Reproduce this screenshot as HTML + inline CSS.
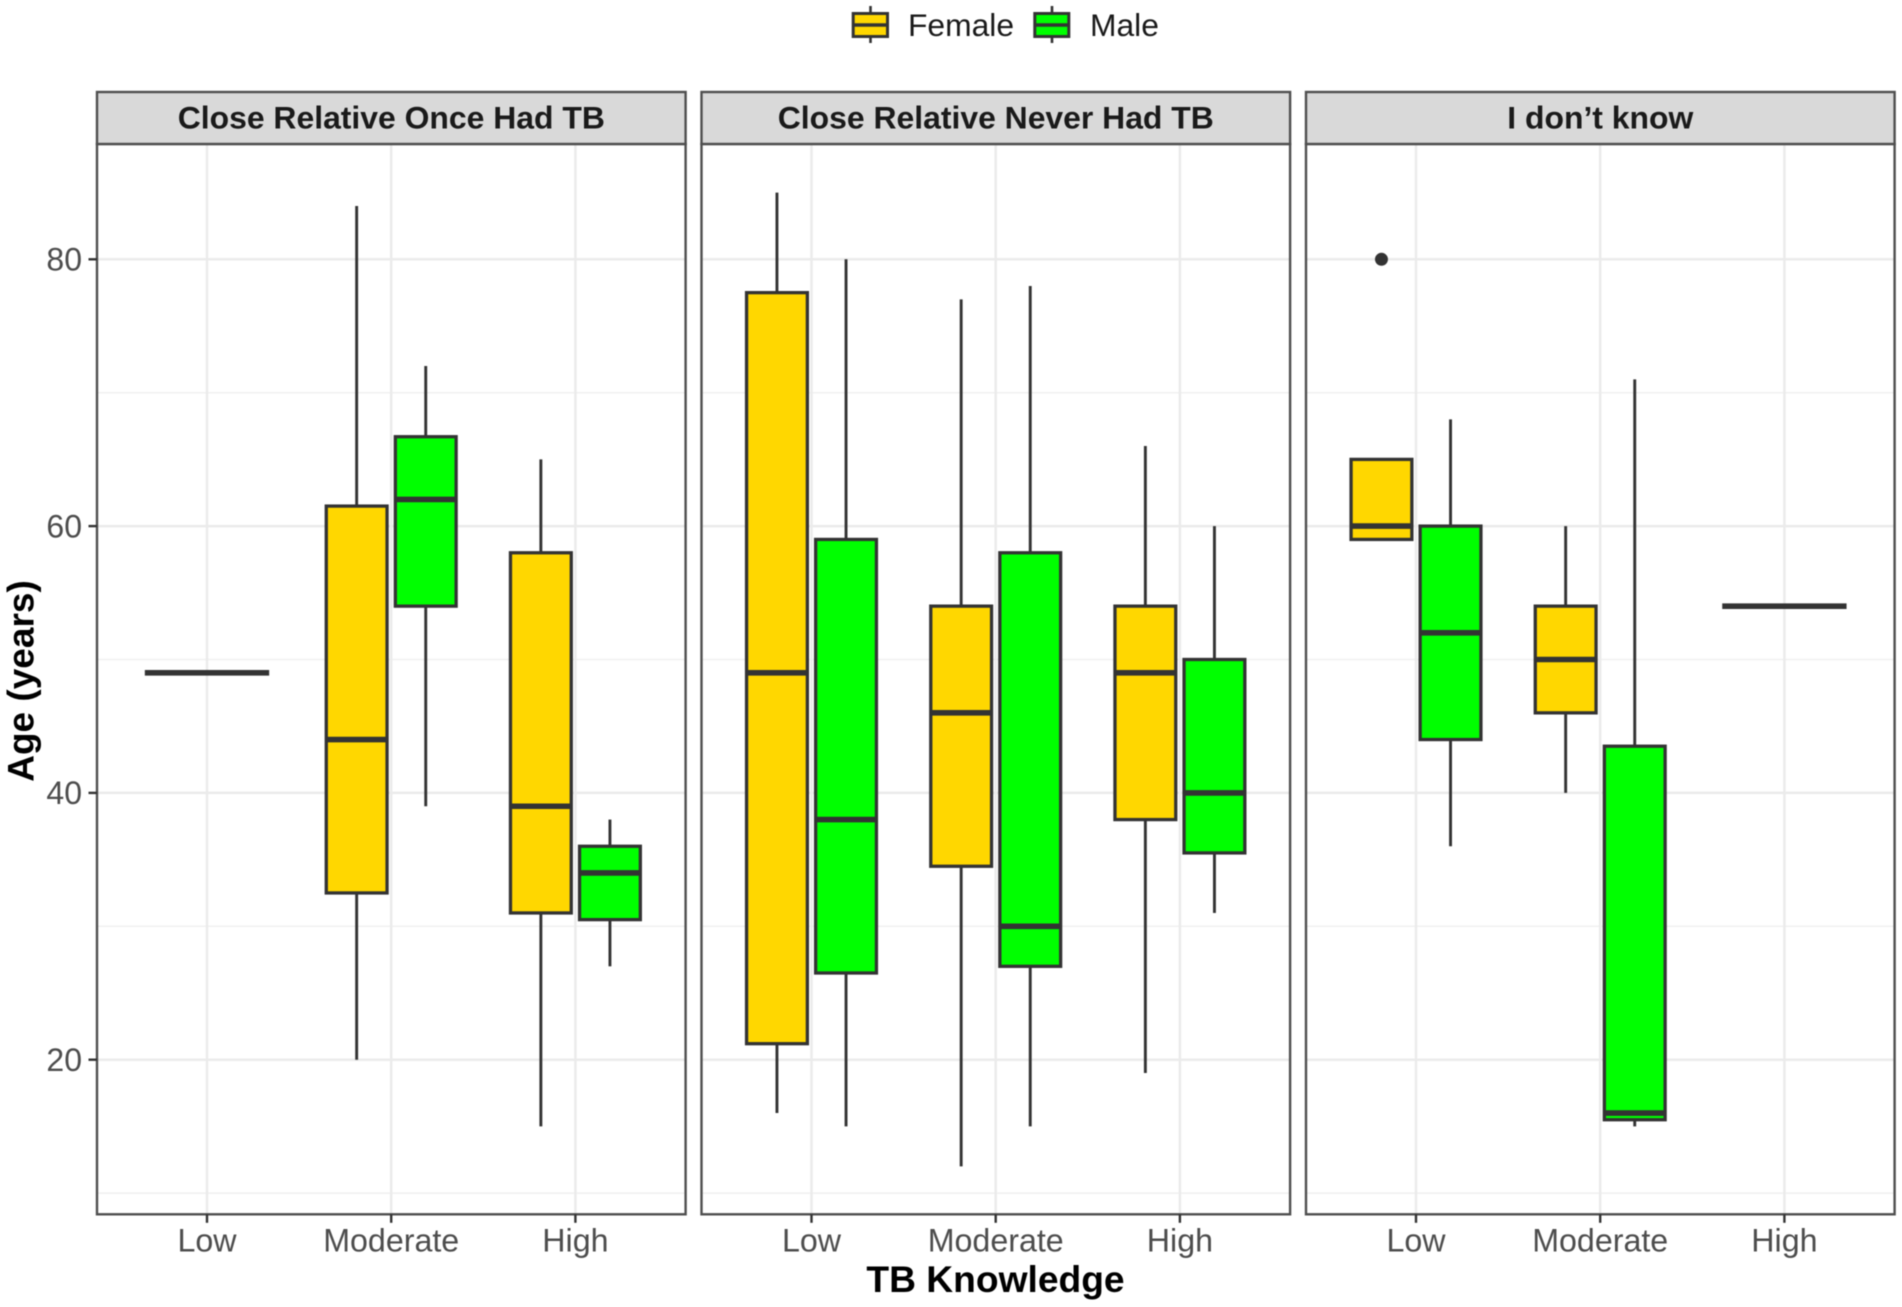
<!DOCTYPE html>
<html lang="en">
<head>
<meta charset="utf-8">
<title>Age by TB Knowledge, Gender and Relative's TB History</title>
<style>
  html, body { margin: 0; padding: 0; background: #fff; }
  svg { display: block; font-family: "Liberation Sans", Arial, sans-serif; filter: blur(0.5px); }
</style>
</head>
<body>
<svg id="chart" xmlns="http://www.w3.org/2000/svg" width="1902" height="1307" viewBox="0 0 1902 1307">
  <rect x="0" y="0" width="1902" height="1307" fill="#ffffff"/>
  <g id="panels"></g>

  <g>
    <g>
      <line x1="870.5" x2="870.5" y1="6" y2="43" stroke="#333333" stroke-width="2.6"/>
      <rect x="853.2" y="13.5" width="34.3" height="23" fill="#ffd700" stroke="#333333" stroke-width="3"/>
      <line x1="853.2" x2="887.5" y1="25" y2="25" stroke="#333333" stroke-width="3.5"/>
      <text x="908" y="36" font-size="31.8" fill="#1a1a1a">Female</text>
    </g>
    <g>
      <line x1="1052" x2="1052" y1="6" y2="43" stroke="#333333" stroke-width="2.6"/>
      <rect x="1034.8" y="13.5" width="34" height="23" fill="#00ff00" stroke="#333333" stroke-width="3"/>
      <line x1="1034.8" x2="1068.8" y1="25" y2="25" stroke="#333333" stroke-width="3.5"/>
      <text x="1090" y="36" font-size="31.8" fill="#1a1a1a">Male</text>
    </g>
  </g>

  <text x="995.5" y="1292" font-size="37.2" font-weight="bold" text-anchor="middle" fill="#000000">TB Knowledge</text>
  <text transform="translate(33.5 681) rotate(-90)" font-size="37" font-weight="bold" text-anchor="middle" fill="#000000">Age (years)</text>
</svg>

<script>
// ---- Data (outer index = facet panel, inner index = knowledge level) ----
const panelTitles = ["Close Relative Once Had TB", "Close Relative Never Had TB", "I don\u2019t know"];
const knowledgeLevels = ["Low", "Moderate", "High"];
const yMajorTicks = [20, 40, 60, 80];
const yMinorTicks = [10, 30, 50, 70];

const femaleWhiskerLow  = [[null, 20, 15], [16, 12, 19], [59, 40, null]];
const femaleQ1          = [[null, 32.5, 31], [21.2, 34.5, 38], [59, 46, null]];
const femaleMedian      = [[null, 44, 39], [49, 46, 49], [60, 50, null]];
const femaleQ3          = [[null, 61.5, 58], [77.5, 54, 54], [65, 54, null]];
const femaleWhiskerHigh = [[null, 84, 65], [85, 77, 66], [65, 60, null]];
const femaleOutliers    = [[null, null, null], [null, null, null], [80, null, null]];

const maleWhiskerLow  = [[null, 39, 27], [15, 15, 31], [36, 15, null]];
const maleQ1          = [[null, 54, 30.5], [26.5, 27, 35.5], [44, 15.5, null]];
const maleMedian      = [[null, 62, 34], [38, 30, 40], [52, 16, null]];
const maleQ3          = [[null, 66.7, 36], [59, 58, 50], [60, 43.5, null]];
const maleWhiskerHigh = [[null, 72, 38], [80, 78, 60], [68, 71, null]];

// Categories with a single observation, drawn as a full-width median bar
const singleObservation = [[49, null, null], [null, null, null], [null, null, 54]];

// ---- Layout and axis functions ----
const SVG_NS = "http://www.w3.org/2000/svg";
const panelLefts = [97, 701.5, 1306];
const panelWidth = 588.6;
const stripTop = 92, panelTop = 144, panelBottom = 1214.3;
const unitX = 184.2, firstCatOffset = 110;
const dodgeUnits = 0.1875, boxUnits = 0.33, singleUnits = 0.675;
const INK = "#333333", GRID = "#ebebeb", FRAME = "#4f4f4f";

function xScale(panel, catPosition) {
  return panelLefts[panel] + firstCatOffset + catPosition * unitX;
}
function yScale(value) {
  return 259.3 + (80 - value) * 13.34;
}
function make(tag, attrs, parent) {
  const node = document.createElementNS(SVG_NS, tag);
  for (const key in attrs) node.setAttribute(key, attrs[key]);
  parent.appendChild(node);
  return node;
}

function drawBox(group, panel, cat, side, fill, gender, s) {
  if (s.q1 === null) return;
  const cx = xScale(panel, cat + side * dodgeUnits);
  const halfW = boxUnits * unitX / 2;
  const whiskerUp = make("line", {x1: cx, x2: cx, y1: yScale(s.q3), y2: yScale(s.high), stroke: INK, "stroke-width": 2.9}, group);
  
  
  const whiskerDown = make("line", {x1: cx, x2: cx, y1: yScale(s.q1), y2: yScale(s.low), stroke: INK, "stroke-width": 2.9}, group);
  
  
  const box = make("rect", {x: cx - halfW, y: yScale(s.q3), width: halfW * 2, height: yScale(s.q1) - yScale(s.q3), fill: fill, stroke: INK, "stroke-width": 3.3}, group);
  
  
  const med = make("line", {x1: cx - halfW, x2: cx + halfW, y1: yScale(s.median), y2: yScale(s.median), stroke: INK, "stroke-width": 5.6}, group);
  
  
}

const root = document.getElementById("panels");

panelTitles.forEach(function (title, p) {
  const left = panelLefts[p], right = left + panelWidth;
  const g = make("g", {}, root);
  
  

  const bg = make("rect", {x: left, y: panelTop, width: panelWidth, height: panelBottom - panelTop, fill: "#ffffff"}, g);
  
  

  yMinorTicks.forEach(function (v) {
    const minor = make("line", {x1: left, x2: right, y1: yScale(v), y2: yScale(v), stroke: "#f0f0f0", "stroke-width": 1.5}, g);
    
    
  });
  yMajorTicks.forEach(function (v) {
    const major = make("line", {x1: left, x2: right, y1: yScale(v), y2: yScale(v), stroke: GRID, "stroke-width": 2.5}, g);
    
    
  });
  knowledgeLevels.forEach(function (label, c) {
    const vx = make("line", {x1: xScale(p, c), x2: xScale(p, c), y1: panelTop, y2: panelBottom, stroke: GRID, "stroke-width": 2.5}, g);
    
    
  });

  knowledgeLevels.forEach(function (label, c) {
    drawBox(g, p, c, -1, "#ffd700", "female", {
      low: femaleWhiskerLow[p][c], q1: femaleQ1[p][c], median: femaleMedian[p][c], q3: femaleQ3[p][c], high: femaleWhiskerHigh[p][c]
    });
    drawBox(g, p, c, 1, "#00ff00", "male", {
      low: maleWhiskerLow[p][c], q1: maleQ1[p][c], median: maleMedian[p][c], q3: maleQ3[p][c], high: maleWhiskerHigh[p][c]
    });
    if (femaleOutliers[p][c] !== null) {
      const dot = make("circle", {cx: xScale(p, c - dodgeUnits), cy: yScale(femaleOutliers[p][c]), r: 6.5, fill: INK}, g);
      
      
    }
    if (singleObservation[p][c] !== null) {
      const half = singleUnits * unitX / 2;
      const solo = make("line", {x1: xScale(p, c) - half, x2: xScale(p, c) + half, y1: yScale(singleObservation[p][c]), y2: yScale(singleObservation[p][c]), stroke: INK, "stroke-width": 5.6}, g);
      
      
    }
  });

  const frame = make("rect", {x: left, y: panelTop, width: panelWidth, height: panelBottom - panelTop, fill: "none", stroke: FRAME, "stroke-width": 2.4}, g);
  
  

  const strip = make("rect", {x: left, y: stripTop, width: panelWidth, height: panelTop - stripTop, fill: "#d9d9d9", stroke: FRAME, "stroke-width": 2.4}, g);
  
  

  const stripText = make("text", {x: left + panelWidth / 2, y: 128.5, "font-size": 31.9, "font-weight": "bold", "text-anchor": "middle", fill: "#1a1a1a"}, g);
  stripText.textContent = title;
  
  

  knowledgeLevels.forEach(function (label, c) {
    const tick = make("line", {x1: xScale(p, c), x2: xScale(p, c), y1: panelBottom, y2: panelBottom + 8.5, stroke: INK, "stroke-width": 2.4}, g);
    
    
    const tickText = make("text", {x: xScale(p, c), y: 1251.5, "font-size": 32.2, "text-anchor": "middle", fill: "#4d4d4d"}, g);
    tickText.textContent = label;
    
    
  });
});

yMajorTicks.forEach(function (v) {
  const tick = make("line", {x1: panelLefts[0] - 8.5, x2: panelLefts[0], y1: yScale(v), y2: yScale(v), stroke: INK, "stroke-width": 2.4}, root);
  
  
  const label = make("text", {x: 82, y: yScale(v) + 11.3, "font-size": 32, "text-anchor": "end", fill: "#4d4d4d"}, root);
  label.textContent = String(v);
  
  
});
</script>
</body>
</html>
